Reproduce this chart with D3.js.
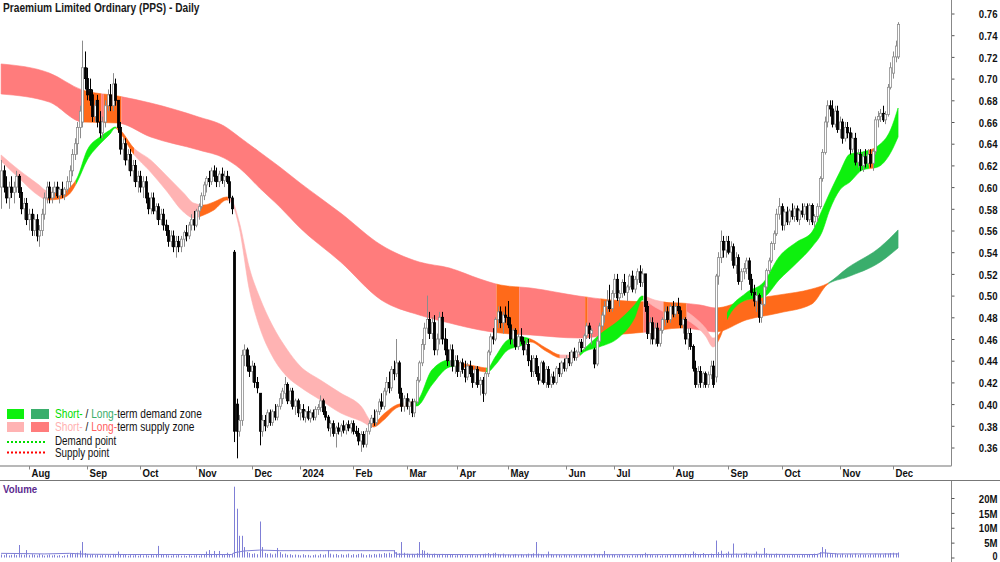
<!DOCTYPE html>
<html><head><meta charset="utf-8">
<script src="https://cdn.jsdelivr.net/npm/d3@7"></script>
<style>
body{margin:0;background:#fff}
svg{display:block}
text{font-family:"Liberation Sans",Arial,Helvetica,sans-serif}
</style>
</head><body>
<svg id="c" width="1000" height="562"></svg>
<script>
// ---------------- DATA ----------------
const title = "Praemium Limited Ordinary (PPS) - Daily";
const startDate = "2023-07-17";
const holidays = ["2023-12-25","2023-12-26","2024-01-01","2024-01-26","2024-03-29","2024-04-01","2024-04-25","2024-06-10"];
const monthLabels = ["Aug","Sep","Oct","Nov","Dec","2024","Feb","Mar","Apr","May","Jun","Jul","Aug","Sep","Oct","Nov","Dec"];
const priceTicks = [0.36,0.38,0.40,0.42,0.44,0.46,0.48,0.50,0.52,0.54,0.56,0.58,0.60,0.62,0.64,0.66,0.68,0.70,0.72,0.74,0.76];
const volumeTicks = [0,5,10,15,20];
const volumeTickLabels = ["0","5M","10M","15M","20M"];

// daily candles [open, high, low, close] in cents
const ohlc = [
[60,62.5,58,61.5],[61.5,62,59.5,60],[60,61,58.5,59],[59,60.5,58,60],[60,61,59,59.5],
[59.5,60.5,58.5,60],[60,61.5,59.5,61],[61,61.2,59,59.5],[59.5,60,57.5,58],[58,59,57,58.5],
[58.5,59,56.5,57],[57,58,56,57.5],[57.5,58,55.5,56],[56,57.5,55.5,57],[57,57.5,55,55.5],
[55.5,56.5,54.5,56],[56,58,55.5,57.5],[57.5,59.5,57,59],[59,60.5,58.5,60],[60,60.5,58.5,59],
[59,60,58.5,59.5],[59.5,60.5,59,60],[60,60.5,59,59.2],[59.2,60,58.5,59.8],[59.8,60.5,59,59.3],
[59.3,60,58.8,59.8],[59.8,61,59.5,60.5],[60.5,62,60,61.5],[61.5,63.5,61,63],[63,64.5,62.5,64],
[64,66,63,65.5],[65.5,67.5,64.5,67],[66,73.5,65.5,71],[71,72.5,69,70],[70,71,68,68.5],
[69,70,67.5,68],[68.5,69,66,66.5],[66.5,68,66,67.5],[68,68.5,65.5,66],[66,67,64.5,65],
[65,66.5,64.5,66],[66,68,65.5,67.5],[67.5,69,67,68.5],[68.5,69.5,67,67.5],[67.5,70.5,67,69.5],
[69.5,70,67.5,68],[68,68,65,65.5],[65.5,66,63,63.5],[63.5,64.5,62.5,64],[64,64.5,62,62.5],
[62.5,63.5,61.5,63],[63,63.5,61,61.5],[61.5,62.5,60.5,62],[62,62.5,60,60.5],[60.5,61.5,59.5,61],
[61,61.5,59.5,60],[60,61,59,60.5],[60.5,61,58.5,59],[59,59.5,57.5,58],[58,59.5,57.5,59],
[59,59.5,57.5,57.8],[57.8,58.5,57,58.2],[58.2,58.5,56.5,57],[57,58,56.5,57.5],[57.5,58,56,56.5],
[56.5,57,55.5,56],[56,56.5,54.5,55],[55,56,54.5,55.5],[55.5,56,54,54.5],[54.5,55.5,53.5,55],
[55,55.5,54,54.5],[54.5,55.5,54,55.2],[55.2,56,54.5,55.8],[55.8,56.5,55,55.5],[55.5,56.8,55.2,56.5],
[56.5,57.5,56,57],[57,57.8,56,56.5],[56.5,58,56.3,57.8],[57.8,58.5,57,58.2],[58.2,59.5,58,59.2],
[59.2,60.5,58.8,60.2],[60.2,61,59.5,60.8],[60.8,61.5,60,60.5],[60.5,61.8,60.2,61.5],[61.5,62,60.5,61],
[61,61.8,60,60.5],[60.5,61.5,60,61.2],[61.2,61.8,60.3,60.6],[60.6,61.5,60,61],[61,61.5,60.3,60.5],
[60.5,61,58.5,59],[59,59.2,57.5,58],[54,54.2,36.5,37.5],[40,40.5,35,37.5],[37.5,39,37,38.5],
[38.5,45,38,44.5],[44.5,45.5,43.5,45],[45,45.2,43,43.5],[43.5,44.5,42.5,43],[43,44,42,43.5],
[43.5,43.8,41.5,42],[42,42.5,41,41.5],[41,41,36.2,37.5],[37.5,39,37,38.5],[38.5,39,37.5,38],
[38,39.5,37.8,39.2],[39.2,39.5,38,38.3],[38.3,39.5,38,39.3],[39.3,40,38.5,38.8],[38.8,40,38.5,39.8],
[39.8,41,39.5,40.5],[40.5,41.5,40,41.2],[41,42.5,40.5,41.8],[41.8,42,40,40.3],[40.3,41.5,40,41.2],
[41.2,41.5,39.5,39.8],[39.8,40.5,39,40.3],[40.3,40.5,38.8,39.2],[39.2,40,38.5,39.5],[39.5,40,38.5,38.8],
[38.8,39.5,38.3,39.3],[39.3,39.8,38.5,38.7],[38.7,39.5,38.3,39.2],[39.2,39.5,38.5,38.8],[38.8,39.8,38.5,39.5],
[39.5,40,39,39.7],[39.7,40.8,39.3,40.3],[40.3,40.5,39,39.3],[39.3,39.8,38.5,38.8],[38.8,39,37.5,37.8],
[37.8,38.5,37,38.2],[38.2,38.5,37,37.3],[37.3,38,36,37.8],[37.8,38.3,37.2,37.5],[37.5,38.2,37,38],
[38,38.5,37.3,37.6],[37.6,38.3,37.2,38.1],[38.1,38.5,37.5,37.8],[37.8,38.5,37.3,38.2],[38.2,38.5,37.2,37.5],
[37.5,38,37,37.3],[37.3,37.8,36.2,36.6],[36.6,37.5,35.6,37.2],[37.2,37.5,36,36.3],[36.3,37.8,36,37.5],
[37.5,38.5,37.2,38.2],[38.2,39,37.8,38.7],[38.7,39.5,38,38.3],[38.3,39.5,38,39.3],[39.3,40.5,39,40.2],
[40.2,41,39.5,39.8],[39.8,41.5,39.5,41.2],[41.2,42.5,40.8,42],[42,43,41,41.5],[41.5,43.5,41.2,43.2],
[43.2,44,42.2,42.8],[42.8,46,42.5,43.8],[43.8,44,40.5,41],[41,41.5,39.3,39.8],[39.8,40.8,39.3,40.5],
[40.5,41,39.5,39.8],[39.8,40.5,39,40.2],[40.2,40.5,38.8,39.2],[39.2,40.5,38.8,40.2],[40.2,42.5,40,42.2],
[42.2,44,42,43.8],[43.8,46,43.5,45.5],[45.5,47.5,45,47],[47,50,46.5,47.8],[47.8,48.5,46,46.5],
[46.5,48,46,47.5],[47.5,48.2,44.5,45],[45,46.5,44.5,46],[46,48.5,45.5,48],[48,48.5,45.5,46],
[46,47,44.5,45],[45,46,43.5,44],[44,45.5,43.5,45],[45,45.5,43,43.5],[43.5,44.5,42.8,44],
[44,44.5,42.5,43],[43,44,42.5,43.8],[43.8,44.2,42.8,43.2],[43.2,44,42,42.5],[42.5,43.8,42.2,43.5],
[43.5,44,42.5,42.8],[42.8,43.5,41.5,42],[42,43.5,41.8,43.2],[43.2,43.5,41.5,41.8],[41.8,42.5,40.8,42.2],
[42.2,42.5,40.2,41],[41,43,40.8,42.8],[42.8,45,42.5,44.8],[44.8,46.5,44.5,46.2],[46.2,47,45.5,46],
[46,48,45.8,47.8],[47.8,49,47,48.5],[48.5,49,47,47.5],[47.5,48.5,46.5,48.2],[48.2,49,47.5,48],
[48,49.5,47,47.3],[47.3,48,45.5,46],[46,47,45.5,46.8],[46.8,47,45,45.3],[45.3,46.5,45,46.2],
[46.2,47,45.5,45.8],[45.8,46.2,44.5,45],[45,46,44.5,45.5],[45.5,46,43.5,44],[44,44.5,42.5,43],
[43,44.5,42.5,44.2],[44.2,44.5,42.5,42.8],[42.8,43.5,41.8,42.2],[42.2,44,42,43.8],[43.8,44,41.8,42],
[42,43.5,41.5,43.2],[43.2,43.5,41.5,41.8],[41.8,42.8,41.5,42.5],[42.5,43,41.8,42],[42,43.5,41.8,43.3],
[43.3,43.8,42.5,42.8],[42.8,44,42.5,43.8],[43.8,44.2,43,43.3],[43.3,44.5,43,44.2],[44.2,44.8,43.5,43.8],
[43.8,45,43.5,44.8],[44.8,45.2,44,44.3],[44.3,45,44,44.8],[44.8,46,44.5,45.7],[45.7,46,44.8,45.2],
[45.2,46.5,45,46.3],[46.3,47.5,46,47.2],[47.2,47.5,46,46.5],[46.5,47,45.5,46.8],[45,45.2,43.3,43.7],
[43.7,46,43.5,45.8],[45.8,47.5,45.5,47.2],[47.2,48.5,46.8,48.2],[48.2,49.5,47.5,49],[49,50.5,48.5,49.5],
[49.5,51,48.5,48.8],[48.8,50.5,48.5,50.2],[50.2,52,49.8,51.5],[51.5,52,49.5,49.8],[49.8,50.5,49,50.2],
[50.2,51.5,49.8,51.2],[51.2,52,50,50.3],[50.3,51,49.5,50.8],[50.8,52,50.5,51.8],[51.8,52.3,50.3,50.6],
[50.6,51.8,50.2,51.5],[51.5,52.5,51,52.2],[52.2,52.8,50.8,51.2],[51.2,52.5,50.8,52],[52,52,48.5,49],
[49,49.5,46,46.5],[46.5,48,45.5,47.5],[47.5,48,45.5,46],[46,47.5,45.5,47],[47,47.5,45.3,45.6],
[45.6,47,45.3,46.8],[46.8,48,46.5,47.8],[47.8,49,47.2,48.5],[48.5,49,47.5,47.8],[47.8,49.2,47.5,49],
[49,49.5,48,48.3],[48.3,49.3,48,49],[49,49.8,48.3,48.6],[48.6,49,47,47.3],[47.3,48,46.5,47.8],
[47.8,48,45.5,46],[46,47,45,46.5],[46.5,47,45,45.3],[45.3,45.5,43,43.3],[43.3,44,41.5,41.8],
[41.8,43.5,41.5,43],[43,43.5,41.5,42],[42,43,41.5,42.8],[42.8,43,41.5,41.8],[41.8,43,41.5,42.7],
[42.7,44,42.3,43.5],[43.5,44,41.5,41.8],[42.5,52,42,51.8],[51.8,54,51,53.5],[53.5,56,53,55],
[55,55.5,53.5,54.2],[54.2,55.5,53.5,55],[55,55.5,53.8,54],[54,55,53.2,54.5],[54.5,54.8,52.5,52.8],
[52.8,54,52,53.5],[53.5,53.8,51,51.3],[51.3,52.5,50.5,52.2],[52.2,53,51.5,52.5],[52.5,53.5,52,53.2],
[53.2,53.5,51,51.5],[51.5,52,50,50.3],[50.3,51,49,49.5],[49.5,50.5,48.5,50],[50,50.2,47.5,48],
[48,49.5,47.5,49.2],[49.2,51,49,50.8],[50.8,52.5,50.5,52.3],[52.3,53.5,52,53.2],[53.2,55,53,54.8],
[54.8,56,54.2,55.7],[55.7,58,55.5,57.5],[57.5,59,57,58.2],[58.2,58.5,56,56.5],[56.5,58,56,57.7],
[57.7,58.2,56.5,56.8],[56.8,58,56.5,57.8],[57.8,58.5,57,57.3],[57.3,58.3,56.8,58],[58,58.3,56.8,57],
[57,58,56.5,57.8],[57.8,58.5,57.2,57.5],[57.5,58.5,57,58.2],[58.2,58.5,56.8,57],[57,58.5,56.5,58.3],
[58.3,58.5,56.5,56.8],[56.8,57.5,56.3,57.3],[57.3,58.5,56.8,58.2],[58.2,61,58,60.8],[60.8,63.5,60.5,63.2],
[63.2,66.5,63,66],[66,68,65.5,67.5],[67.5,68,66.5,67.2],[67.2,68,65.5,65.8],[65.8,67.5,65.5,67],
[67,67.5,65,65.3],[65.3,66.5,64.5,66],[66,66.3,64,64.5],[64.5,66,64.2,65.5],[65.5,66,64.5,65],
[65,65.5,63,63.5],[63.5,65,63.2,64.5],[64.5,65,62,62.3],[62.3,63.5,61.8,63],[63,63.5,61.5,62],
[62,63.2,61.4,62.8],[62.8,63.5,61.8,62.2],[62.2,63.5,62,63],[63,63.5,61.8,62.2],[62.2,63.5,61.5,63.3],
[63.3,66.5,63,66.2],[66.2,67,65.5,66.5],[66.5,67.2,66,66.8],[66.8,67.5,66,66.2],[66.2,67,65.8,66.7],
[66.7,69.5,66.5,69.2],[69.2,71.5,69,71],[70.5,72.5,70,72],[72,73.5,71.5,73],[72,75.2,71.8,75]
];

// daily volume, millions of shares
const volumes = [
1.0,0.8,1.2,0.7,0.9,1.1,0.8,4.2,1.0,0.9, 2.5,0.8,1.1,0.9,0.7,1.2,0.9,0.6,0.8,1.0,
0.7,0.9,0.6,0.8,0.5,0.7,0.9,1.2,1.4,1.1, 1.6,2.3,5.2,1.5,1.2,0.9,1.1,0.8,1.0,0.7,
0.9,0.8,1.0,0.7,1.2,0.9,2.0,1.1,0.8,0.9, 0.6,0.8,0.7,1.0,0.6,0.9,0.7,0.8,0.6,1.0,
0.7,0.9,3.9,1.0,0.8,0.9,0.7,0.6,0.8,0.7, 0.9,0.6,0.7,0.5,0.8,0.6,0.7,0.9,0.6,0.8,
1.0,2.0,2.5,1.2,2.2,1.0,2.2,0.9,0.8,1.6, 0.9,1.2,23.8,16.4,7.3,7.3,3.5,1.8,1.5,1.2,
1.4,1.1,12.1,3.5,1.5,1.2,1.4,1.0,1.3,3.2, 1.8,1.1,1.3,0.9,1.1,0.8,1.0,0.9,0.7,1.1,
0.8,0.9,0.6,0.8,1.0,0.7,1.2,0.9,1.1,2.5, 1.3,1.0,1.2,0.8,1.1,0.9,1.0,1.3,0.8,1.1,
0.9,1.2,1.4,1.0,0.8,1.1,0.9,1.2,1.0,1.3, 1.1,1.5,1.3,1.6,1.2,2.5,1.8,1.4,5.2,1.6,
1.3,1.1,1.2,1.0,1.4,5.2,2.5,2.3,1.6,1.2, 1.0,1.3,0.9,1.1,1.2,0.8,1.0,0.9,1.1,0.7,
0.9,0.8,1.0,0.7,0.9,0.8,1.1,0.7,0.9,1.0, 1.2,1.3,1.5,1.1,1.4,1.6,1.2,1.0,1.3,0.9,
1.1,0.8,1.0,1.2,0.9,1.1,0.8,1.0,1.3,1.1, 1.4,5.2,1.3,1.1,1.0,0.9,2.0,1.1,0.8,1.0,
0.9,0.7,1.0,0.8,0.9,0.7,0.8,1.0,0.7,0.9, 1.1,0.8,1.0,0.9,1.3,1.0,1.2,0.9,2.2,1.1,
0.8,1.0,0.9,0.7,0.8,1.0,0.7,0.9,0.6,0.8, 0.7,0.9,0.8,1.0,1.6,1.1,0.9,0.8,0.7,0.9,
0.6,0.8,0.7,0.9,1.0,0.8,1.2,0.9,1.1,1.0, 1.3,0.9,1.2,2.0,1.4,1.0,1.2,1.5,0.9,1.1,
1.3,1.0,5.7,1.8,2.3,1.2,1.4,2.0,1.1,4.7, 1.3,1.0,1.2,1.4,1.6,1.1,0.9,1.2,2.0,1.1,
1.0,3.2,1.4,1.1,1.2,0.9,1.3,1.0,0.8,1.1, 0.9,0.7,1.0,0.8,0.9,0.7,1.0,0.8,0.9,1.1,
1.0,1.3,1.2,1.8,3.5,2.8,1.5,1.3,1.1,1.4, 1.2,1.0,1.3,0.9,1.1,1.2,1.0,1.3,0.9,1.2,
1.0,1.1,0.9,1.2,1.0,1.3,1.1,1.2,1.0,1.4, 1.3,1.5,1.6,1.4,1.7
];

// volume average line [day index, millions]
const volumeAvg = [[0,1.4],[10,1.3],[17,1.2],[27,1.4],[34,1.1],[50,1.0],[91,1.0],[92,1.6],[96,2.2],[102,2.5],[110,2.3],[155,2.3],[156,1.1],[200,0.9],[282,1.0],[290,1.1],[322,1.0],[324,1.6],[330,1.2],[354,1.2]];

// short-term zone edges [day index, upper (c), lower (c)]
const shortBand = [[0,62.96,62.41],[7,61.58,60.84],[15,60.19,59.18],[18,59.64,58.81],[23,59.46,58.90],[27,59.92,59.36],[30,60.84,60.47],[34,63.42,62.50],[39,64.62,63.97],[43,65.26,64.89],[45,65.54,65.45],[47,65.26,64.99],[52,63.70,63.14],[59,62.50,61.39],[65,61.12,59.73],[72,59.46,57.71],[76,58.53,57.15],[80,58.35,57.43],[84,58.63,57.89],[89,59.09,58.81],[91,58.81,58.53],[94,56.78,56.23],[98,52.54,50.52],[102,49.87,47.11],[107,47.29,44.43],[113,44.99,42.50],[118,43.51,41.58],[126,42.22,40.38],[134,41.02,39.18],[142,39.82,38.44],[147,38.26,37.89],[151,39.09,38.53],[156,39.92,39.64],[159,40.10,39.82],[164,40.29,39.82],[170,43.14,41.76],[177,44.06,43.42],[180,43.88,43.51],[187,43.51,43.14],[192,43.33,42.96],[195,44.34,43.60],[200,45.91,44.99],[205,46.18,45.35],[209,46.00,45.72],[215,45.17,44.89],[221,44.53,44.25],[227,44.53,44.25],[230,45.08,44.80],[236,46.37,45.26],[244,47.75,46.18],[250,49.13,47.94],[253,49.96,49.59],[258,49.59,48.95],[264,49.27,48.21],[272,48.30,47.57],[278,47.01,46.28],[281,46.09,45.26],[284,46.65,46.28],[286,48.12,47.57],[294,50.24,49.59],[301,51.25,49.87],[307,53.56,51.44],[314,54.94,53.01],[320,55.86,54.48],[324,57.89,55.86],[327,59.46,57.89],[331,61.39,59.73],[335,63.05,60.47],[340,63.24,61.58],[346,63.79,61.85],[351,65.26,63.14],[354,67.29,64.62]];

// long-term zone edges [day index, upper (c), lower (c)]
const longBand = [[0,71.35,68.58],[19,70.52,67.84],[32,68.95,66.00],[46,68.40,65.91],[59,67.75,64.62],[78,66.46,63.42],[88,65.63,62.68],[94,64.62,61.76],[102,63.24,59.92],[110,61.85,58.17],[118,60.38,56.23],[134,57.61,53.10],[150,54.66,49.60],[165,53.10,48.21],[177,52.54,47.47],[189,51.53,46.83],[197,50.98,46.55],[209,50.70,46.37],[228,49.96,46.09],[241,49.59,46.37],[255,49.41,46.65],[268,49.32,47.01],[276,49.13,46.83],[282,48.86,46.65],[294,49.59,47.75],[307,50.06,48.40],[320,50.61,49.23],[326,51.10,51.00],[334,52.54,51.71],[347,54.48,53.10],[354,56.05,54.39]];

// zone state per day range [first day, last day, state]
const shortZones = [[0,18,"supply"],[19,29,"neutral"],[30,45,"demand"],[46,52,"neutral"],[53,78,"supply"],[79,89,"neutral"],[90,146,"supply"],[147,163,"neutral"],[164,179,"demand"],[180,191,"neutral"],[192,208,"demand"],[209,220,"neutral"],[221,228,"supply"],[229,253,"demand"],[254,261,"supply"],[262,270,"neutral"],[271,282,"supply"],[283,286,"neutral"],[287,342,"demand"],[343,344,"neutral"],[345,354,"demand"]];
const longZones = [[0,32,"supply"],[33,39,"neutral"],[40,40,"supply"],[41,47,"neutral"],[48,195,"supply"],[196,204,"neutral"],[205,230,"supply"],[231,231,"neutral"],[232,236,"supply"],[237,253,"neutral"],[254,261,"supply"],[262,270,"neutral"],[271,282,"supply"],[283,326,"neutral"],[327,354,"demand"]];

// ---------------- STYLE ----------------
const shortColors = {supply:"#ffb3b3", demand:"#0ef00e", neutral:"#ff6a1a"};
const longColors  = {supply:"#ff7c7c", demand:"#3aae6c", neutral:"#ff6a1a"};
const NARROW = 0.82;   // horizontal condensation of label glyphs

// ---------------- DATES ----------------
const dates = [];
{
  const hol = new Set(holidays);
  const d = new Date(startDate + "T00:00:00Z");
  while (dates.length < ohlc.length) {
    const wd = d.getUTCDay();
    const iso = d.toISOString().slice(0,10);
    if (wd !== 0 && wd !== 6 && !hol.has(iso)) dates.push(new Date(d));
    d.setUTCDate(d.getUTCDate() + 1);
  }
}
const monthStarts = [];
for (let i = 1; i < dates.length; i++) {
  if (dates[i].getUTCMonth() !== dates[i-1].getUTCMonth()) monthStarts.push(i);
}

// ---------------- SCALES ----------------
const svg = d3.select("#c");
const x = d3.scaleLinear().domain([0, 352]).range([1.1, 893]);
const y = d3.scaleLinear().domain([0.36, 0.76]).range([447.5, 13.5]);
const yv = d3.scaleLinear().domain([0, 20]).range([557.5, 498]);
const axisX = 951.5;

const defs = svg.append("defs");
defs.append("clipPath").attr("id","plot").append("rect")
  .attr("x",0).attr("y",0).attr("width",axisX).attr("height",465);

function label(parent, xx, yy, str, size, weight, fill, anchor) {
  return parent.append("text")
    .attr("transform", `translate(${xx},${yy}) scale(${NARROW},1)`)
    .attr("text-anchor", anchor || "start")
    .style("font-size", size + "px").style("font-weight", weight || "normal")
    .attr("fill", fill || "#111").text(str);
}

// ---------------- BANDS ----------------
function drawBand(band, zones, colors, name) {
  const area = d3.area()
    .x(d => x(d[0]))
    .y0(d => y(d[2]/100))
    .y1(d => y(d[1]/100))
    .curve(d3.curveMonotoneX);
  const pathD = area(band);
  const g = svg.append("g").attr("clip-path","url(#plot)");
  zones.forEach((z, k) => {
    const id = name + "z" + k;
    const x0 = x(z[0] - 0.5), x1 = x(z[1] + 0.5);
    defs.append("clipPath").attr("id", id).append("rect")
      .attr("x", x0).attr("y", 0).attr("width", x1 - x0).attr("height", 470);
    g.append("path").attr("d", pathD).attr("fill", colors[z[2]])
      .attr("stroke", colors[z[2]]).attr("stroke-width", 0.6)
      .attr("clip-path", "url(#" + id + ")");
  });
}
drawBand(longBand, longZones, longColors, "L");
drawBand(shortBand, shortZones, shortColors, "S");

// ---------------- CANDLES ----------------
const cg = svg.append("g").attr("clip-path","url(#plot)");
ohlc.forEach((c, i) => {
  const [o,h,l,cl] = c.map(v => v/100);
  const up = cl >= o;
  const xi = Math.round(x(i)) + 0.5;
  cg.append("line").attr("x1", xi).attr("x2", xi)
    .attr("y1", y(h)).attr("y2", y(l))
    .attr("stroke", up ? "#8c8c8c" : "#000").attr("stroke-width", 1);
  const top = y(Math.max(o,cl)), bot = y(Math.min(o,cl));
  cg.append("rect").attr("x", xi - 1.1).attr("width", 2.2)
    .attr("y", top).attr("height", Math.max(bot - top, 0.8))
    .attr("fill", up ? "#ffffff" : "#000")
    .attr("stroke", up ? "#8c8c8c" : "#000").attr("stroke-width", 0.8);
});

// ---------------- PRICE AXIS ----------------
const ya = svg.append("g").attr("transform", `translate(${axisX},0)`)
  .call(d3.axisRight(y).tickValues(priceTicks).tickSize(3).tickFormat(d3.format(".2f")));
ya.select(".domain").remove();
ya.selectAll(".tick line").attr("stroke","#555");
ya.selectAll(".tick text").attr("x", 46/NARROW).attr("transform", `scale(${NARROW},1)`)
  .attr("text-anchor","end").attr("dy","0.36em")
  .style("font-size","11.7px").style("font-weight","bold").attr("fill","#111");

svg.append("line").attr("x1",axisX).attr("x2",axisX).attr("y1",0).attr("y2",466).attr("stroke","#888");
svg.append("line").attr("x1",axisX).attr("x2",axisX).attr("y1",480).attr("y2",562).attr("stroke","#888");

// ---------------- TIME AXIS ----------------
svg.append("line").attr("x1",0).attr("x2",axisX).attr("y1",466).attr("y2",466).attr("stroke","#a0a0a0").attr("stroke-width",1.5);
svg.append("line").attr("x1",0).attr("x2",1000).attr("y1",480.5).attr("y2",480.5).attr("stroke","#777");
const xa = svg.append("g");
monthStarts.forEach((idx, k) => {
  const xm = Math.round(x(idx)) + 0.5;
  xa.append("line").attr("x1",xm).attr("x2",xm).attr("y1",466).attr("y2",469.5).attr("stroke","#888");
  label(xa, xm + 2, 477, monthLabels[k], 11.7, "bold");
});

// ---------------- VOLUME ----------------
const vg = svg.append("g");
volumes.forEach((v, i) => {
  const xi = Math.round(x(i)) + 0.5;
  vg.append("line").attr("x1", xi).attr("x2", xi).attr("y1", yv(0)).attr("y2", yv(v))
    .attr("stroke", "#7f7fd6").attr("stroke-width", 1);
});
svg.append("path").datum(volumeAvg)
  .attr("d", d3.line().x(d => x(d[0])).y(d => yv(d[1])))
  .attr("fill","none").attr("stroke","#7f7fd6").attr("stroke-width",1);
const va = svg.append("g").attr("transform", `translate(${axisX},0)`)
  .call(d3.axisRight(yv).tickValues(volumeTicks).tickSize(3).tickFormat((d,i) => volumeTickLabels[i]));
va.select(".domain").remove();
va.selectAll(".tick line").attr("stroke","#555");
va.selectAll(".tick text").attr("x", 46/NARROW).attr("transform", `scale(${NARROW},1)`)
  .attr("text-anchor","end").attr("dy", d => d === 0 ? "0.2em" : "0.36em")
  .style("font-size", d => d === 0 ? "11px" : "11.7px").style("font-weight","bold").attr("fill","#111");
label(svg, 3, 492.7, "Volume", 11.8, "bold", "#5b2a8e");

// ---------------- TITLE ----------------
label(svg, 3, 11.5, title, 12.4, "bold", "#1a1a1a");

// ---------------- LEGEND ----------------
const lg = svg.append("g");
lg.append("rect").attr("x",7).attr("y",409).attr("width",17).attr("height",10).attr("fill",shortColors.demand);
lg.append("rect").attr("x",31).attr("y",409).attr("width",18).attr("height",10).attr("fill",longColors.demand);
lg.append("rect").attr("x",7).attr("y",422).attr("width",17).attr("height",10).attr("fill",shortColors.supply);
lg.append("rect").attr("x",31).attr("y",422).attr("width",18).attr("height",10).attr("fill",longColors.supply);
lg.append("line").attr("x1",7).attr("x2",45).attr("y1",442).attr("y2",442)
  .attr("stroke","#00dd00").attr("stroke-width",2).attr("stroke-dasharray","2,2");
lg.append("line").attr("x1",7).attr("x2",45).attr("y1",452.5).attr("y2",452.5)
  .attr("stroke","#ff0000").attr("stroke-width",2).attr("stroke-dasharray","2,2");
function legendText(yy, parts, size) {
  const t = label(lg, 55, yy, "", size || 12.4, "normal", "#111");
  parts.forEach(p => t.append("tspan").text(p[0]).attr("fill", p[1]));
}
legendText(418.3, [["Short-","#00dd00"],[" / ","#111"],["Long-","#3aae6c"],["term demand zone","#111"]]);
legendText(431.3, [["Short-","#ffb0b0"],[" / ","#111"],["Long-","#ff5f5f"],["term supply zone","#111"]]);
legendText(445.3, [["Demand point","#111"]], 12);
legendText(456.8, [["Supply point","#111"]], 12);
</script>
</body></html>
